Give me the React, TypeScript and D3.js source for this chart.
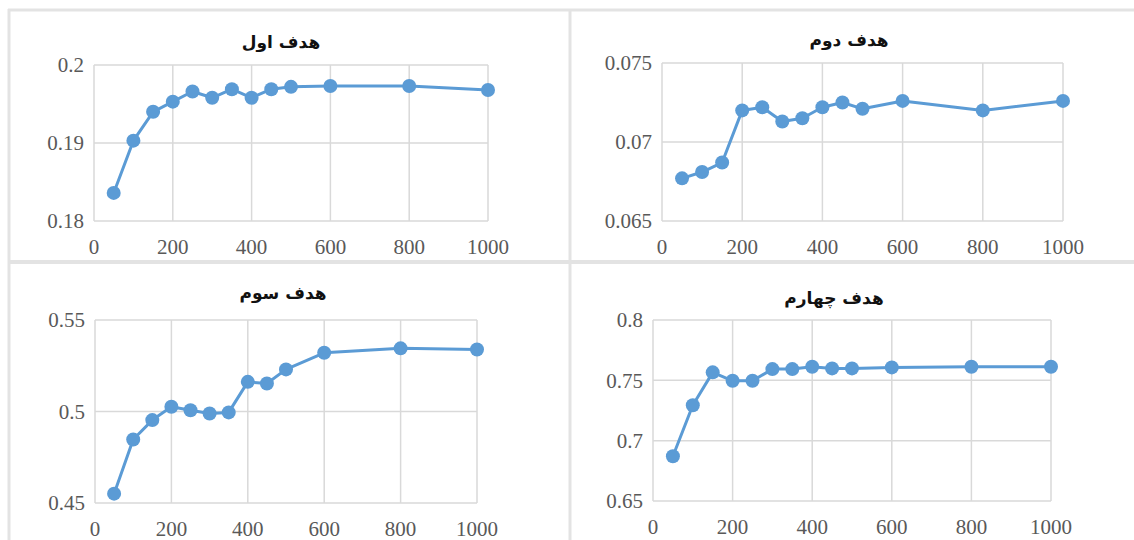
import * as d3 from 'd3'

// sample sizes on the x axis, shared by all four panels
const xValues = [50, 100, 150, 200, 250, 300, 350, 400, 450, 500, 600, 800, 1000]
const xTicks = [0, 200, 400, 600, 800, 1000]

const titles = ['هدف اول', 'هدف دوم', 'هدف سوم', 'هدف چهارم']

const goal1 = [0.1836, 0.1903, 0.194, 0.1953, 0.1966, 0.1958, 0.1969, 0.1958, 0.1969, 0.1972, 0.1973, 0.1973, 0.1968]
const goal2 = [0.0677, 0.0681, 0.0687, 0.072, 0.0722, 0.0713, 0.0715, 0.0722, 0.0725, 0.0721, 0.0726, 0.072, 0.0726]
const goal3 = [0.4551, 0.4847, 0.4953, 0.5026, 0.5007, 0.4989, 0.4995, 0.5162, 0.5153, 0.523, 0.5321, 0.5345, 0.5339]
const goal4 = [0.6871, 0.7294, 0.7566, 0.7496, 0.7496, 0.7593, 0.7593, 0.7613, 0.7599, 0.7599, 0.7607, 0.7613, 0.7613]

const yTicks1 = [0.18, 0.19, 0.2]
const yTicks2 = [0.065, 0.07, 0.075]
const yTicks3 = [0.45, 0.5, 0.55]
const yTicks4 = [0.65, 0.7, 0.75, 0.8]

const W = 1134
const H = 540
const LINE_COLOR = '#5B9BD5'
const GRID = '#D9D9D9'
const FRAME = '#E3E3E3'
const TICK_TEXT = '#595959'
const SERIF = '"Liberation Serif", "DejaVu Serif", "Noto Serif", "Times New Roman", Tinos, Times, serif'

// plot rectangles [left, top, right, bottom]
const panels = [
  { title: titles[0], values: goal1, yTicks: yTicks1, box: [94, 65, 488, 221], titleX: 281, titleY: 42 },
  { title: titles[1], values: goal2, yTicks: yTicks2, box: [662, 63, 1063, 221], titleX: 849, titleY: 40 },
  { title: titles[2], values: goal3, yTicks: yTicks3, box: [95, 320, 477, 503], titleX: 283, titleY: 293 },
  { title: titles[3], values: goal4, yTicks: yTicks4, box: [653, 320, 1051, 501], titleX: 834, titleY: 298 },
]

const tickStyle = { fontFamily: SERIF, fontSize: 21 }

function Panel({ title, values, yTicks, box, titleX, titleY }: (typeof panels)[number]) {
  const [l, t, r, b] = box
  const x = d3.scaleLinear().domain([0, 1000]).range([l, r])
  const y = d3.scaleLinear().domain(d3.extent(yTicks) as [number, number]).range([b, t])
  const line = d3
    .line<number>()
    .x((_, i) => x(xValues[i]))
    .y((d) => y(d))
  const fmt = (v: number) => `${+v.toFixed(4)}`

  return (
    <g>
      {yTicks.map((v) => (
        <line key={'gy' + v} x1={l} x2={r} y1={y(v)} y2={y(v)} stroke={GRID} strokeWidth={1.5} />
      ))}
      {xTicks.map((v) => (
        <line key={'gx' + v} x1={x(v)} x2={x(v)} y1={t} y2={b} stroke={GRID} strokeWidth={1.5} />
      ))}
      {yTicks.map((v) => (
        <text key={'ty' + v} x={l - 10} y={y(v)} dy="0.35em" textAnchor="end" style={tickStyle} fill={TICK_TEXT}>
          {fmt(v)}
        </text>
      ))}
      {xTicks.map((v) => (
        <text key={'tx' + v} x={x(v)} y={b + 26} dy="0.35em" textAnchor="middle" style={tickStyle} fill={TICK_TEXT}>
          {v}
        </text>
      ))}
      <path d={line(values) ?? ''} fill="none" stroke={LINE_COLOR} strokeWidth={3} strokeLinejoin="round" />
      {values.map((v, i) => (
        <circle key={'p' + i} cx={x(xValues[i])} cy={y(v)} r={7} fill={LINE_COLOR} />
      ))}
      <text
        x={titleX}
        y={titleY}
        dy="0.35em"
        textAnchor="middle"
        direction="rtl"
        style={{ fontFamily: '"DejaVu Sans", sans-serif', fontWeight: 'bold', fontSize: 17 }}
        fill="#111"
      >
        {title}
      </text>
    </g>
  )
}

export default function App() {
  return (
    <div style={{ position: 'absolute', left: 0, top: 0, width: W, height: H, background: '#fff' }}>
      <svg width={W} height={H} style={{ display: 'block' }}>
        <rect width={W} height={H} fill="#fff" />
        {/* outer frame and panel dividers */}
        <line x1={8} x2={W} y1={10} y2={10} stroke={FRAME} strokeWidth={3} />
        <line x1={9} x2={9} y1={9} y2={H} stroke={FRAME} strokeWidth={3} />
        <line x1={570} x2={570} y1={9} y2={H} stroke={FRAME} strokeWidth={3} />
        <line x1={8} x2={W} y1={262} y2={262} stroke={FRAME} strokeWidth={4} />
        {panels.map((p) => (
          <Panel key={p.title} {...p} />
        ))}
      </svg>
    </div>
  )
}
